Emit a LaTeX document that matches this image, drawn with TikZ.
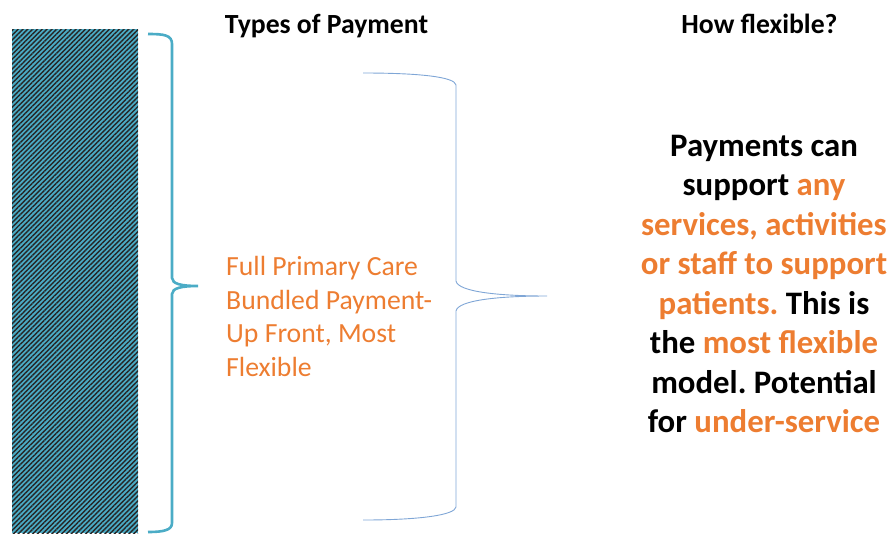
\documentclass[tikz,border=0pt]{standalone}
\usepackage{fontspec}
\setmainfont{Carlito}
\usepackage{xcolor}
\usetikzlibrary{patterns.meta}
\definecolor{payorange}{HTML}{ED7D31}
\definecolor{barteal}{HTML}{4BACC6}
\definecolor{bracelight}{HTML}{7FA6D6}
\newcommand{\hl}[1]{\textcolor{payorange}{#1}}
\frenchspacing

\begin{document}
\begin{tikzpicture}[x=1pt, y=-1pt]
            \useasboundingbox (0,0) rectangle (890,533);
            \fill[barteal] (12,29) rectangle (138,533);
            \path[pattern={Lines[angle=45,distance=3.4pt,line width=1.4pt]}, pattern color=black!85] (12,29) rectangle (138,533);
            \coordinate (lbtop) at (148,34);
            \coordinate (lbtip) at (198,286);
            \coordinate (lbbot) at (148,532);
            \coordinate (rbtop) at (363,73);
            \coordinate (rbtip) at (547,296);
            \coordinate (rbbot) at (363,520);
            \draw[barteal, line width=2.6pt] (lbtop) .. controls (164,34) and (172,35) .. (172,44) -- (172,278)
                .. controls (172,284) and (182,286) .. (lbtip) .. controls (182,286) and (172,288) .. (172,294)
                -- (172,523) .. controls (172,530) and (164,532) .. (lbbot);
            \draw[bracelight, line width=0.9pt] (rbtop) .. controls (420,73) and (455,77) .. (456,85) -- (456,281)
                .. controls (458,292) and (500,296) .. (rbtip) .. controls (500,296) and (458,300) .. (456,311)
                -- (456,507) .. controls (455,515) and (420,520) .. (rbbot);
            \node[anchor=base, font=\fontsize{27.7}{33}\selectfont\bfseries] (typeshead) at (326.5,33) {Types of Payment};
            \node[anchor=base, font=\fontsize{27.7}{33}\selectfont\bfseries] (flexhead) at (759.5,33) {How flexible?};
            \node[anchor=north west, inner sep=0pt, align=left, text=payorange,
                font=\fontsize{27.7}{33.7}\selectfont] (fullpay) at (226,256)
                {Full Primary Care\\Bundled Payment-\\Up Front, Most\\Flexible};
            \node[anchor=north, inner sep=0pt, align=center,
                font=\fontsize{32.8}{39.5}\selectfont\bfseries] (flexdesc) at (764,135)
                {Payments can\\support \hl{any}\\\hl{services, activities}\\\hl{or staff to support}\\\hl{patients.} This is\\the \hl{most flexible}\\model. Potential\\for \hl{under-service}};
        \end{tikzpicture}
\end{document}
